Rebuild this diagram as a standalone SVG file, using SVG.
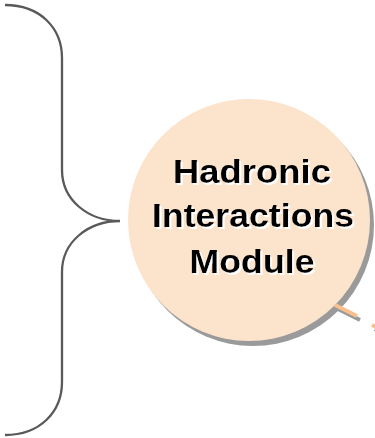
<svg xmlns="http://www.w3.org/2000/svg" width="375" height="438" viewBox="0 0 375 438">
<style>
.brace{fill:none;stroke:#595959;stroke-width:2.3;}
.lbl{font-family:"Liberation Sans",Arial,sans-serif;font-weight:bold;font-size:33px;text-anchor:middle;fill:#000000;}
.link{stroke:#F9C08E;stroke-width:4;}
.linksh{stroke:#9a9a9a;stroke-width:4;}
</style>
<defs>
<filter id="wshadow" x="-10%" y="-20%" width="120%" height="150%">
<feFlood flood-color="#ffffff" result="w"/>
<feComposite in="w" in2="SourceAlpha" operator="in" result="wa"/>
<feOffset in="wa" dx="2" dy="2" result="off"/>
<feMerge><feMergeNode in="off"/><feMergeNode in="SourceGraphic"/></feMerge>
</filter>
</defs>
<rect width="375" height="438" fill="#ffffff"/>
<g id="connectors">
<path class="brace" d="M5,5 C40,5 62,28 62,58 L62,170 C62,200 88,221 120,221 M120,221 C88,221 62,242 62,272 L62,382 C62,412 40,435 5,435"/>
<line class="linksh" x1="338" y1="309" x2="360" y2="320"/>
<line class="linksh" x1="375" y1="329" x2="378" y2="331"/>
</g>
<g id="hadronic-module">
<circle cx="253" cy="225" r="121" fill="#9a9a9a"/>
<circle cx="249" cy="220" r="121" fill="#FCE4CC"/>
<line class="link" x1="335" y1="305" x2="357" y2="316"/>
<line class="link" x1="372" y1="325" x2="376" y2="327"/>
<g class="lbl" filter="url(#wshadow)">
<text x="252" y="183" textLength="158" lengthAdjust="spacingAndGlyphs">Hadronic</text>
<text x="253" y="227" textLength="202" lengthAdjust="spacingAndGlyphs">Interactions</text>
<text x="252" y="273" textLength="125" lengthAdjust="spacingAndGlyphs">Module</text>
</g>
</g>
</svg>
